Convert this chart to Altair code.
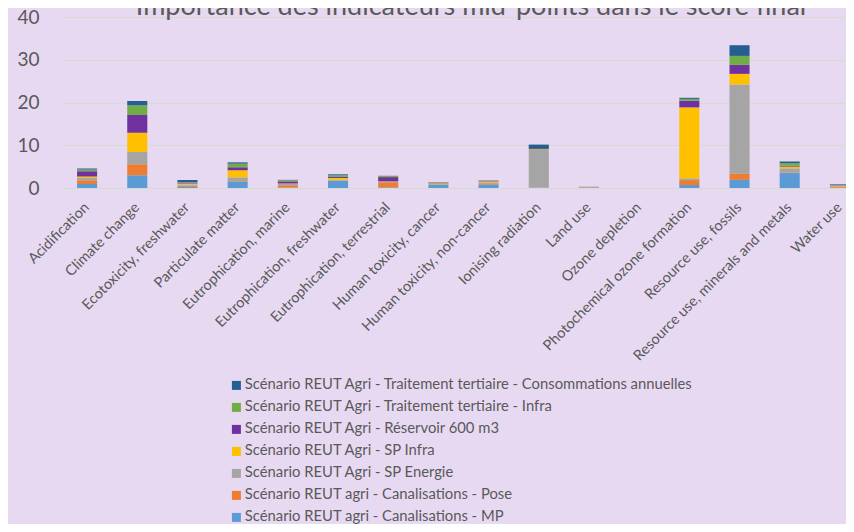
import altair as alt
import pandas as pd

categories = [
    "Acidification", "Climate change", "Ecotoxicity, freshwater", "Particulate matter",
    "Eutrophication, marine", "Eutrophication, freshwater", "Eutrophication, terrestrial",
    "Human toxicity, cancer", "Human toxicity, non-cancer", "Ionising radiation",
    "Land use", "Ozone depletion", "Photochemical ozone formation",
    "Resource use, fossils", "Resource use, minerals and metals", "Water use",
]

# stacked bottom -> top
series_names = [
    "Scénario REUT agri - Canalisations - MP",
    "Scénario REUT agri - Canalisations - Pose",
    "Scénario REUT Agri - SP Energie",
    "Scénario REUT Agri - SP Infra",
    "Scénario REUT Agri - Réservoir 600 m3",
    "Scénario REUT Agri - Traitement tertiaire - Infra",
    "Scénario REUT Agri - Traitement tertiaire - Consommations annuelles",
]
series_colors = ["#5B9BD5", "#ED7D31", "#A5A5A5", "#FFC000", "#7030A0", "#70AD47", "#255E91"]

mp      = [0.95, 3.0, 0.3, 1.4, 0.1, 1.65, 0.15, 0.7, 0.85, 0.05, 0.1, 0.0, 0.7, 1.9, 3.5, 0.05]
pose    = [0.85, 2.55, 0.25, 0.17, 0.55, 0.1, 1.2, 0.1, 0.25, 0.05, 0.05, 0.0, 1.15, 1.45, 0.15, 0.2]
energie = [0.55, 2.9, 0.25, 0.93, 0.3, 0.2, 0.15, 0.15, 0.2, 8.8, 0.05, 0.0, 0.4, 20.85, 0.95, 0.15]
sp_infra = [0.35, 4.5, 0.25, 1.65, 0.1, 0.4, 0.05, 0.15, 0.25, 0.15, 0.02, 0.0, 16.6, 2.5, 0.4, 0.15]
reservoir = [1.2, 4.1, 0.15, 0.7, 0.5, 0.25, 1.0, 0.1, 0.1, 0.05, 0.02, 0.0, 1.55, 2.1, 0.2, 0.05]
tt_infra = [0.45, 2.3, 0.15, 0.85, 0.3, 0.4, 0.25, 0.1, 0.1, 0.05, 0.05, 0.0, 0.45, 2.1, 0.6, 0.05]
tt_conso = [0.2, 1.0, 0.5, 0.3, 0.05, 0.2, 0.05, 0.05, 0.05, 1.0, 0.01, 0.0, 0.25, 2.5, 0.4, 0.2]

series_values = [mp, pose, energie, sp_infra, reservoir, tt_infra, tt_conso]

title_text = "Importance des indicateurs mid-points dans le score final"

rows = []
for idx, (name, vals) in enumerate(zip(series_names, series_values)):
    for cat, v in zip(categories, vals):
        rows.append({"cat": cat, "serie": name, "val": v, "ord": idx})
df = pd.DataFrame(rows)

legend_order = series_names[::-1]
legend_colors = series_colors[::-1]

bars = alt.Chart(df).mark_bar().encode(
    x=alt.X("cat:N", sort=categories, title=None,
            scale=alt.Scale(range=[0, 803], paddingInner=0.6, paddingOuter=0.3),
            axis=alt.Axis(labelAngle=-45, labelAlign="right", labelBaseline="middle",
                          labelPadding=17, ticks=False, tickSize=0, domain=False,
                          grid=False, labelFontSize=14.5, labelColor="#595959",
                          labelFont="Lato", labelLimit=400)),
    y=alt.Y("val:Q", stack="zero", title=None,
            scale=alt.Scale(domain=[0, 40], nice=False),
            axis=alt.Axis(values=[0, 10, 20, 30, 40], ticks=False, tickSize=0, domain=False,
                          gridColor="#D9D9D9", gridWidth=1.5, labelFontSize=19,
                          labelColor="#595959", labelPadding=23, labelFont="Lato")),
    color=alt.Color("serie:N", scale=alt.Scale(domain=legend_order, range=legend_colors),
                    legend=alt.Legend(title=None, orient="none", legendX=167, legendY=361,
                                      symbolType="square", symbolSize=81, symbolStrokeWidth=0,
                                      labelFontSize=14.8, labelColor="#595959", labelFont="Lato",
                                      rowPadding=6.0, labelOffset=1, padding=0,
                                      labelLimit=700)),
    order=alt.Order("ord:Q", sort="ascending"),
)

title = alt.Chart(pd.DataFrame({"t": [title_text]})).mark_text(
    fontSize=27, font="Lato", color="#595959", align="center", baseline="alphabetic"
).encode(
    x=alt.value(409), y=alt.value(-2), text="t:N"
)

chart = alt.layer(bars, title).properties(
    width=784,
    height=171,
    autosize=alt.AutoSizeParams(type="none"),
    padding={"left": 54, "top": 9, "right": 0, "bottom": 336},
    background="#E8D9F2",
).configure_view(stroke=None)

chart.save("out.html", embed_options={"renderer": "svg", "actions": False})
